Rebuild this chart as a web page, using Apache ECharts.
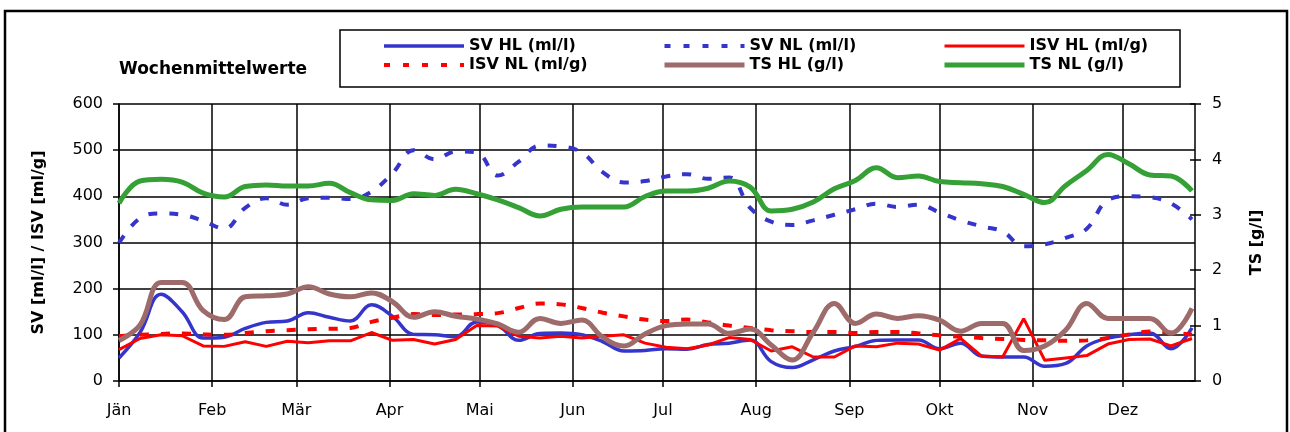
<!DOCTYPE html>
<html>
<head>
<meta charset="utf-8">
<script src="https://cdn.jsdelivr.net/npm/echarts@6/dist/echarts.min.js"></script>
<style>
html, body { margin: 0; background: #fff; }
#chart { width: 1290px; height: 432px; }
</style>
</head>
<body>
<div id="chart"></div>
<script>
// Tage im Jahr (Kategorien der x-Achse), Monatsanfänge und Beschriftungen
var dayCount = 359;
var monthStarts = [0, 31, 59, 90, 120, 151, 181, 212, 243, 273, 304, 334];
var monthNames = ['Jän', 'Feb', 'Mär', 'Apr', 'Mai', 'Jun', 'Jul', 'Aug', 'Sep', 'Okt', 'Nov', 'Dez'];

// Wochen (Tag im Jahr)
var weekDays = [0, 7, 14, 21, 28, 35, 42, 49, 56, 63, 70, 77, 84, 91, 98, 105, 112, 119, 126, 133,
  140, 147, 154, 161, 168, 175, 182, 189, 196, 203, 210, 217, 224, 231, 238, 245, 252, 259, 266, 273,
  280, 287, 294, 301, 308, 315, 322, 329, 336, 343, 350, 357];

// SV HL (ml/l)
var svHL = [50, 105, 188, 150, 93, 95, 114, 127, 130, 148, 138, 130, 165, 140, 101, 100, 96, 128, 121, 88,
  103, 104, 100, 85, 65, 66, 70, 69, 79, 82, 89, 42, 29, 46, 65, 75, 88, 89, 89, 70,
  82, 54, 52, 52, 32, 38, 76, 93, 100, 104, 70, 115];
// SV NL (ml/l)
var svNL = [299, 353, 363, 360, 347, 330, 375, 396, 382, 396, 397, 394, 410, 450, 500, 480, 497, 495, 445, 475,
  510, 508, 495, 452, 430, 433, 443, 448, 438, 441, 375, 345, 338, 348, 360, 372, 384, 377, 382, 365,
  348, 335, 324, 292, 296, 310, 330, 392, 400, 398, 385, 350];
// ISV HL (ml/g)
var isvHL = [68, 92, 100, 98, 76, 75, 85, 75, 86, 83, 87, 87, 105, 88, 90, 80, 90, 120, 119, 97,
  93, 97, 93, 97, 100, 82, 73, 70, 78, 94, 90, 65, 74, 52, 52, 76, 74, 82, 80, 67,
  92, 54, 52, 135, 45, 50, 55, 80, 90, 91, 76, 92];
// ISV NL (ml/g)
var isvNL = [97, 100, 102, 103, 101, 100, 104, 108, 110, 112, 113, 115, 128, 137, 145, 143, 144, 145, 147, 158,
  168, 166, 158, 148, 140, 133, 130, 133, 127, 120, 115, 110, 108, 106, 106, 104, 106, 106, 103, 99,
  96, 93, 91, 89, 88, 87, 88, 93, 101, 107, 105, 100];
// TS HL (g/l)
var tsHL = [0.73, 1.01, 1.78, 1.78, 1.27, 1.11, 1.52, 1.54, 1.57, 1.70, 1.57, 1.52, 1.59, 1.43, 1.15, 1.25, 1.17, 1.12, 1.03, 0.88,
  1.13, 1.04, 1.10, 0.79, 0.63, 0.85, 1.00, 1.03, 1.03, 0.86, 0.94, 0.65, 0.38, 0.88, 1.40, 1.04, 1.21, 1.13, 1.18, 1.10,
  0.90, 1.04, 1.04, 0.55, 0.63, 0.92, 1.40, 1.13, 1.13, 1.13, 0.86, 1.31];
// TS NL (g/l)
var tsNL = [3.21, 3.61, 3.64, 3.59, 3.39, 3.32, 3.51, 3.54, 3.52, 3.52, 3.57, 3.40, 3.27, 3.26, 3.38, 3.35, 3.46, 3.38, 3.27, 3.13,
  2.98, 3.10, 3.14, 3.14, 3.14, 3.33, 3.43, 3.43, 3.48, 3.61, 3.50, 3.07, 3.10, 3.23, 3.47, 3.62, 3.85, 3.67, 3.70, 3.60,
  3.58, 3.56, 3.51, 3.37, 3.22, 3.53, 3.80, 4.09, 3.92, 3.72, 3.70, 3.43];

var days = [];
for (var d = 0; d < dayCount; d++) days.push(d);

function pairs(values) {
  return weekDays.map(function (day, i) { return [day, values[i]]; });
}
function isMonthStart(index) {
  return monthStarts.indexOf(index) !== -1;
}

var font = 'DejaVu Sans';
var blue = '#3535cc', red = '#ff0000', brown = '#9e6b6b', green = '#35a035';
var dash = [9, 12];

var chart = echarts.init(document.getElementById('chart'));

var legendText = { fontFamily: font, fontWeight: 'bold', fontSize: 16, color: '#000' };
function legendItem(name, color, width, type) {
  return { name: name, itemStyle: { opacity: 0 }, lineStyle: { color: color, width: width, type: type || 'solid', opacity: 1 } };
}
function legendCol(left, items) {
  return {
    orient: 'vertical', left: left, top: 38, padding: 0,
    itemWidth: 80, itemHeight: 14, itemGap: 3,
    textStyle: legendText, selectedMode: false,
    itemStyle: { opacity: 0 },
    data: items
  };
}

chart.setOption({
  animation: false,
  backgroundColor: '#fff',
  title: {
    text: 'Wochenmittelwerte', left: 119, top: 61, padding: 0,
    textStyle: { fontFamily: font, fontWeight: 'bold', fontSize: 17, color: '#000' }
  },
  legend: [
    legendCol(382, [legendItem('SV HL (ml/l)', blue, 3.5), legendItem('ISV NL (ml/g)', red, 4, [6, 13])]),
    legendCol(662, [legendItem('SV NL (ml/l)', blue, 4, [6, 13]), legendItem('TS HL (g/l)', brown, 5)]),
    legendCol(942, [legendItem('ISV HL (ml/g)', red, 3), legendItem('TS NL (g/l)', green, 5)])
  ],
  graphic: [
    { type: 'rect', shape: { x: 5, y: 11, width: 1282, height: 440 },
      style: { fill: null, stroke: '#000', lineWidth: 2.5 }, silent: true },
    { type: 'rect', shape: { x: 340, y: 30, width: 840, height: 57 },
      style: { fill: null, stroke: '#000', lineWidth: 1.5 }, silent: true }
  ],
  grid: { left: 119, right: 95, top: 104, bottom: 51 },
  xAxis: {
    type: 'category', data: days, boundaryGap: false,
    axisLine: { lineStyle: { color: '#000', width: 1.5 } },
    axisTick: { interval: isMonthStart, length: 6, lineStyle: { color: '#000', width: 1.5 } },
    axisLabel: {
      interval: isMonthStart, margin: 22,
      fontFamily: font, fontSize: 16, color: '#000',
      formatter: function (v) { return monthNames[monthStarts.indexOf(Number(v))] || ''; }
    },
    splitLine: { show: true, interval: isMonthStart, lineStyle: { color: '#000', width: 1.5 } }
  },
  yAxis: [
    {
      type: 'value', min: 0, max: 600, interval: 100,
      name: 'SV [ml/l] / ISV [ml/g]', nameLocation: 'middle', nameGap: 72, nameRotate: 90,
      nameTextStyle: { fontFamily: font, fontWeight: 'bold', fontSize: 16, color: '#000' },
      axisLine: { show: true, lineStyle: { color: '#000', width: 1.5 } },
      axisTick: { show: true, length: 6, lineStyle: { color: '#000', width: 1.5 } },
      axisLabel: { margin: 16, fontFamily: font, fontSize: 16, color: '#000' },
      splitLine: { lineStyle: { color: '#000', width: 1.5 } }
    },
    {
      type: 'value', min: 0, max: 5, interval: 1, position: 'right',
      name: 'TS [g/l]', nameLocation: 'middle', nameGap: 54, nameRotate: 90,
      nameTextStyle: { fontFamily: font, fontWeight: 'bold', fontSize: 16, color: '#000' },
      axisLine: { show: true, lineStyle: { color: '#000', width: 1.5 } },
      axisTick: { show: true, length: 6, lineStyle: { color: '#000', width: 1.5 } },
      axisLabel: { margin: 17, fontFamily: font, fontSize: 16, color: '#000' },
      splitLine: { show: false }
    },
    {
      // innere Hälfte der Kreuz-Striche rechts
      type: 'value', min: 0, max: 5, interval: 1, position: 'right',
      axisLine: { show: false },
      axisTick: { show: true, inside: true, length: 5, lineStyle: { color: '#000', width: 1.5 } },
      axisLabel: { show: false },
      splitLine: { show: false }
    }
  ],
  series: [
    { name: 'SV HL (ml/l)', type: 'line', data: pairs(svHL), smooth: 0.4, symbol: 'none',
      color: blue, lineStyle: { color: blue, width: 3.5 } },
    { name: 'SV NL (ml/l)', type: 'line', data: pairs(svNL), smooth: 0.4, symbol: 'none',
      color: blue, lineStyle: { color: blue, width: 4, type: dash } },
    { name: 'ISV HL (ml/g)', type: 'line', data: pairs(isvHL), smooth: false, symbol: 'none',
      color: red, lineStyle: { color: red, width: 3 } },
    { name: 'ISV NL (ml/g)', type: 'line', data: pairs(isvNL), smooth: 0.4, symbol: 'none',
      color: red, lineStyle: { color: red, width: 4, type: dash } },
    { name: 'TS HL (g/l)', type: 'line', yAxisIndex: 1, data: pairs(tsHL), smooth: 0.4, symbol: 'none',
      color: brown, lineStyle: { color: brown, width: 5 } },
    { name: 'TS NL (g/l)', type: 'line', yAxisIndex: 1, data: pairs(tsNL), smooth: 0.4, symbol: 'none',
      color: green, lineStyle: { color: green, width: 5 } }
  ]
});
</script>
</body>
</html>
